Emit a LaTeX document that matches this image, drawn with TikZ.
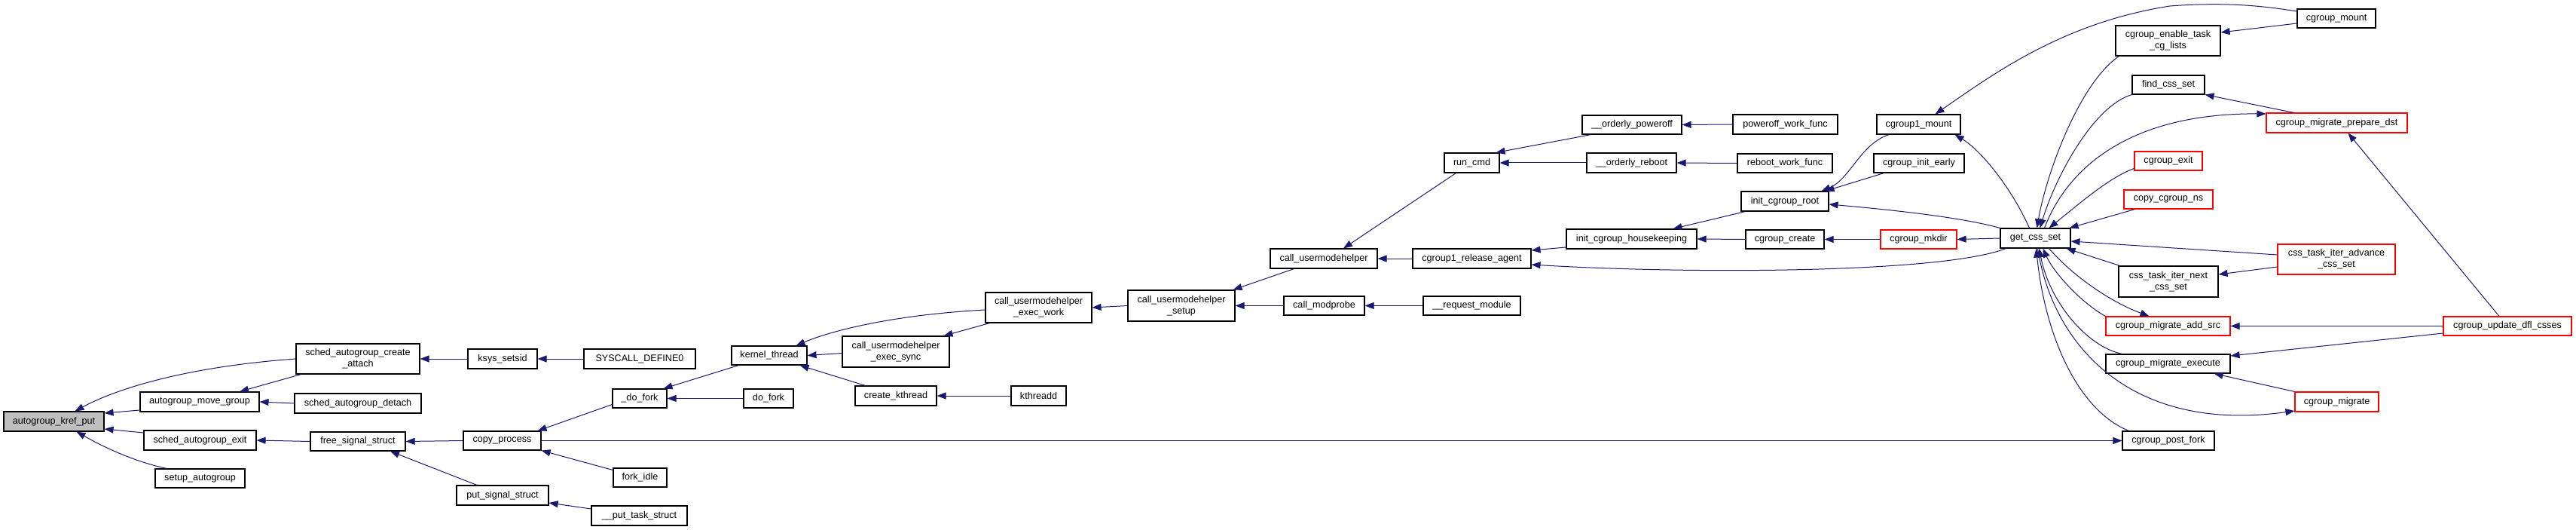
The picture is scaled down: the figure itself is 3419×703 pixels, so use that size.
\documentclass[tikz,border=0pt]{standalone}
\usepackage{fontspec}
\setmainfont{Liberation Sans}
\usetikzlibrary{arrows.meta}
\definecolor{edgeblue}{HTML}{191970}
\definecolor{rootgray}{HTML}{BFBFBF}
\definecolor{redbox}{HTML}{FF0000}
\begin{document}
\begin{tikzpicture}[x=1pt,y=-1pt,
  fn/.style={draw=black,line width=1.1pt,fill=white,inner sep=0pt,align=center,font=\fontsize{12.6}{14.7}\selectfont},
  rootfn/.style={fn,fill=rootgray},
  redfn/.style={fn,draw=redbox},
  edge/.style={draw=edgeblue,line width=1pt},
  back/.style={edge,{Triangle[length=12pt,width=9pt]}-},
  fwd/.style={edge,-{Triangle[length=12pt,width=9pt]}},
]
\useasboundingbox (0,0) rectangle (3419,703);
% nodes
\node[rootfn,minimum width=133pt,minimum height=26pt] (kref) at (71.5,559) {autogroup\_kref\_put};
\node[fn,minimum width=164pt,minimum height=40pt] (cattach) at (475,476) {sched\_autogroup\_create\\\_attach};
\node[fn,minimum width=158pt,minimum height=26pt] (movegrp) at (265,533) {autogroup\_move\_group};
\node[fn,minimum width=168pt,minimum height=26pt] (detach) at (475,535) {sched\_autogroup\_detach};
\node[fn,minimum width=149pt,minimum height=26pt] (sexit) at (265.5,584) {sched\_autogroup\_exit};
\node[fn,minimum width=126pt,minimum height=25pt] (freesig) at (475,585.5) {free\_signal\_struct};
\node[fn,minimum width=119pt,minimum height=25pt] (setupag) at (265.5,634.5) {setup\_autogroup};
\node[fn,minimum width=92pt,minimum height=26pt] (ksys) at (667,476) {ksys\_setsid};
\node[fn,minimum width=148pt,minimum height=26pt] (sysdef) at (849,476) {SYSCALL\_DEFINE0};
\node[fn,minimum width=103pt,minimum height=25pt] (copyproc) at (666.5,584.5) {copy\_process};
\node[fn,minimum width=122pt,minimum height=26pt] (putsig) at (667,657) {put\_signal\_struct};
\node[fn,minimum width=127pt,minimum height=26pt] (puttask) at (848.5,684) {\_\_put\_task\_struct};
\node[fn,minimum width=72pt,minimum height=25pt] (udofork) at (849,528.5) {\_do\_fork};
\node[fn,minimum width=71pt,minimum height=25pt] (forkidle) at (849.5,633.5) {fork\_idle};
\node[fn,minimum width=100pt,minimum height=25pt] (kthread) at (1021,471.5) {kernel\_thread};
\node[fn,minimum width=66pt,minimum height=25pt] (dofork) at (1020,528.5) {do\_fork};
\node[fn,minimum width=142pt,minimum height=41pt] (execsync) at (1189,466.5) {call\_usermodehelper\\\_exec\_sync};
\node[fn,minimum width=108pt,minimum height=26pt] (createkt) at (1189,525) {create\_kthread};
\node[fn,minimum width=141pt,minimum height=40pt] (execwork) at (1378.5,408) {call\_usermodehelper\\\_exec\_work};
\node[fn,minimum width=73pt,minimum height=26pt] (kthreadd) at (1378.5,525) {kthreadd};
\node[fn,minimum width=142pt,minimum height=41pt] (umhsetup) at (1568,405.5) {call\_usermodehelper\\\_setup};
\node[fn,minimum width=142pt,minimum height=26pt] (umh) at (1757,343) {call\_usermodehelper};
\node[fn,minimum width=107pt,minimum height=25pt] (modprobe) at (1757.5,405.5) {call\_modprobe};
\node[fn,minimum width=73pt,minimum height=26pt] (runcmd) at (1953.5,216) {run\_cmd};
\node[fn,minimum width=157pt,minimum height=26pt] (relagent) at (1953.5,343) {cgroup1\_release\_agent};
\node[fn,minimum width=129pt,minimum height=25pt] (reqmod) at (1953.5,405.5) {\_\_request\_module};
\node[fn,minimum width=132pt,minimum height=25pt] (poweroff) at (2166,165.5) {\_\_orderly\_poweroff};
\node[fn,minimum width=119pt,minimum height=26pt] (reboot) at (2165.5,216) {\_\_orderly\_reboot};
\node[fn,minimum width=173pt,minimum height=26pt] (housekeep) at (2165.5,317) {init\_cgroup\_housekeeping};
\node[fn,minimum width=139pt,minimum height=26pt] (powerwf) at (2369.5,165) {poweroff\_work\_func};
\node[fn,minimum width=126pt,minimum height=25pt] (rebootwf) at (2369,216.5) {reboot\_work\_func};
\node[fn,minimum width=116pt,minimum height=26pt] (initroot) at (2369,267) {init\_cgroup\_root};
\node[fn,minimum width=104pt,minimum height=25pt] (cgcreate) at (2369,317.5) {cgroup\_create};
\node[fn,minimum width=111pt,minimum height=26pt] (c1mount) at (2546.5,165) {cgroup1\_mount};
\node[fn,minimum width=120pt,minimum height=25pt] (initearly) at (2547,216.5) {cgroup\_init\_early};
\node[redfn,minimum width=101pt,minimum height=25pt] (mkdir) at (2546.5,317.5) {cgroup\_mkdir};
\node[fn,minimum width=93pt,minimum height=26pt] (getcss) at (2701.5,316) {get\_css\_set};
\node[fn,minimum width=104pt,minimum height=25pt] (cgmount) at (3101,24.5) {cgroup\_mount};
\node[fn,minimum width=139pt,minimum height=40pt] (enable) at (2877.5,54) {cgroup\_enable\_task\\\_cg\_lists};
\node[fn,minimum width=96pt,minimum height=25pt] (findcss) at (2878,112.5) {find\_css\_set};
\node[redfn,minimum width=187pt,minimum height=26pt] (prepdst) at (3101.5,163) {cgroup\_migrate\_prepare\_dst};
\node[redfn,minimum width=90pt,minimum height=25pt] (cgexit) at (2878,213.5) {cgroup\_exit};
\node[redfn,minimum width=118pt,minimum height=25pt] (copyns) at (2878,264.5) {copy\_cgroup\_ns};
\node[redfn,minimum width=156pt,minimum height=40pt] (advance) at (3101,344) {css\_task\_iter\_advance\\\_css\_set};
\node[fn,minimum width=132pt,minimum height=41pt] (itnext) at (2878,373.5) {css\_task\_iter\_next\\\_css\_set};
\node[redfn,minimum width=165pt,minimum height=25pt] (addsrc) at (2877.5,432.5) {cgroup\_migrate\_add\_src};
\node[redfn,minimum width=170pt,minimum height=25pt] (updfl) at (3328,432.5) {cgroup\_update\_dfl\_csses};
\node[fn,minimum width=165pt,minimum height=25pt] (mexec) at (2877.5,482.5) {cgroup\_migrate\_execute};
\node[redfn,minimum width=111pt,minimum height=26pt] (cgmigrate) at (3101.5,533) {cgroup\_migrate};
\node[fn,minimum width=122pt,minimum height=25pt] (postfork) at (2878,584.5) {cgroup\_post\_fork};
% edges
\draw[back] ([xshift=28pt]kref.north) .. controls (150,518) and (240,487) .. (cattach.west);
\draw[back] ([yshift=11pt]kref.east) -- ([yshift=-11pt]movegrp.west);
\draw[back] ([yshift=-10pt]kref.east) -- ([yshift=10pt]sexit.west);
\draw[back] ([xshift=30pt]kref.south) .. controls (150,600) and (190,615) .. ([xshift=16pt]setupag.north west);
\draw[back] ([xshift=53pt]movegrp.north) -- ([xshift=7pt]cattach.south west);
\draw[back] (movegrp.east) -- (detach.west);
\draw[back] (sexit.east) -- (freesig.west);
\draw[back] (cattach.east) -- (ksys.west);
\draw[back] (ksys.east) -- (sysdef.west);
\draw[back] (freesig.east) -- (copyproc.west);
\draw[back] ([xshift=43pt]freesig.south) -- ([xshift=-34pt]putsig.north);
\draw[back] ([yshift=-10pt]putsig.east) -- ([yshift=9pt]puttask.west);
\draw[back] ([xshift=-5pt]copyproc.north east) -- ([yshift=-8pt]udofork.west);
\draw[back] (copyproc.south east) -- ([yshift=10pt]forkidle.west);
\draw[back] ([xshift=-5pt]udofork.north east) -- ([xshift=10pt]kthread.south west);
\draw[back] (udofork.east) -- (dofork.west);
\draw[back] ([xshift=-15pt]kthread.north east) .. controls (1100,440) and (1180,418) .. ([yshift=-3pt]execwork.west);
\draw[back] (kthread.east) -- ([yshift=-2pt]execsync.west);
\draw[back] ([xshift=-10pt]kthread.south east) -- ([xshift=14pt]createkt.north west);
\draw[back] ([xshift=-8pt]execsync.north east) -- ([xshift=6pt]execwork.south west);
\draw[back] (createkt.east) -- (kthreadd.west);
\draw[back] (execwork.east) -- (umhsetup.west);
\draw[back] ([xshift=-3pt]umhsetup.north east) -- ([xshift=32pt]umh.south west);
\draw[back] (umhsetup.east) -- (modprobe.west);
\draw[back] (modprobe.east) -- (reqmod.west);
\draw[back] ([xshift=26pt]umh.north) -- ([xshift=16pt]runcmd.south west);
\draw[back] (umh.east) -- (relagent.west);
\draw[back] ([xshift=-5pt]runcmd.north east) -- ([xshift=12pt]poweroff.south west);
\draw[back] (runcmd.east) -- (reboot.west);
\draw[back] (poweroff.east) -- (powerwf.west);
\draw[back] (reboot.east) -- (rebootwf.west);
\draw[back] ([yshift=11pt]relagent.east) -- ([yshift=-11pt]housekeep.west);
\draw[back] ([yshift=-8pt]relagent.east) .. controls (2250,364) and (2580,362) .. ([xshift=8pt]getcss.south west);
\draw[back] ([xshift=55pt]housekeep.north) -- ([xshift=6pt]initroot.south west);
\draw[back] (housekeep.east) -- (cgcreate.west);
\draw[back] (cgcreate.east) -- (mkdir.west);
\draw[back] (mkdir.east) -- (getcss.west);
\draw[back] ([xshift=-10pt]initroot.north east) .. controls (2455,238) and (2470,190) .. ([xshift=17pt]c1mount.south west);
\draw[back] ([xshift=-5pt]initroot.north east) -- ([xshift=14pt]initearly.south west);
\draw[back] ([yshift=-4pt]initroot.east) .. controls (2530,280) and (2610,290) .. (getcss.north west);
\draw[back] ([xshift=22pt]c1mount.north) .. controls (2650,95) and (2740,30) .. (2880,8) .. controls (2960,2) and (3010,9) .. ([yshift=9.5pt]cgmount.west);
\draw[back] ([xshift=-8pt]c1mount.south east) .. controls (2630,200) and (2670,250) .. ([xshift=-8pt]getcss.north);
\draw[back] ([xshift=2pt]getcss.north) .. controls (2716,230) and (2760,110) .. ([xshift=5pt]enable.south west);
\draw[back] ([xshift=6pt]getcss.north) .. controls (2730,230) and (2780,140) .. (findcss.south west);
\draw[fwd] ([xshift=12pt]getcss.north) .. controls (2745,220) and (2830,150) .. ([yshift=12pt]prepdst.west);
\draw[back] ([xshift=18pt]getcss.north) .. controls (2760,270) and (2800,235) .. ([yshift=-10pt]cgexit.west);
\draw[back] ([xshift=-2pt]getcss.north east) -- ([xshift=15pt]copyns.south west);
\draw[back] ([yshift=-4pt]getcss.east) -- ([yshift=6pt]advance.west);
\draw[back] ([xshift=-6pt]getcss.south east) -- ([xshift=2pt]itnext.north west);
\draw[fwd] ([xshift=18pt]getcss.south) .. controls (2750,365) and (2800,400) .. ([xshift=-25pt]addsrc.north);
\draw[back] ([xshift=10pt]getcss.south) .. controls (2725,360) and (2760,400) .. (addsrc.north west);
\draw[back] ([xshift=5pt]getcss.south) .. controls (2720,400) and (2770,460) .. ([xshift=22pt]mexec.north west);
\draw[fwd] ([xshift=3pt]getcss.south) .. controls (2725,460) and (2830,575) .. ([yshift=-12pt]cgmigrate.west);
\draw[back] ([xshift=1pt]getcss.south) .. controls (2715,450) and (2760,545) .. ([xshift=9pt]postfork.north west);
\draw[fwd] (copyproc.east) -- (postfork.west);
\draw[back] ([yshift=11pt]enable.east) -- ([yshift=-6.5pt]cgmount.west);
\draw[back] (findcss.south east) -- ([xshift=37pt]prepdst.north west);
\draw[back] ([xshift=15pt]prepdst.south) -- ([xshift=-11pt]updfl.north);
\draw[back] ([yshift=9.5pt]itnext.east) -- ([yshift=-10pt]advance.west);
\draw[back] (addsrc.east) -- (updfl.west);
\draw[back] ([yshift=10.5pt]mexec.east) -- ([yshift=-9.5pt]updfl.west);
\draw[back] ([xshift=-22pt]mexec.south east) -- (cgmigrate.north west);
\end{tikzpicture}
\end{document}
